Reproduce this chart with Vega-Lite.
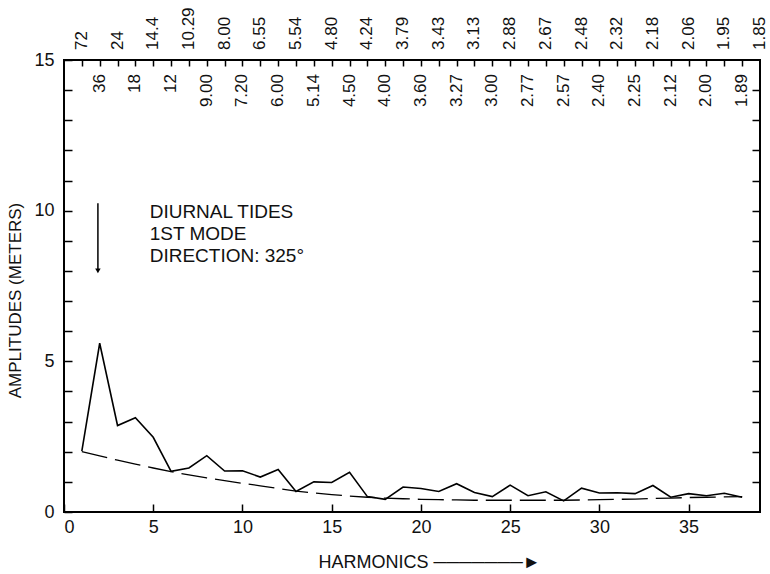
{
  "$schema": "https://vega.github.io/schema/vega-lite/v6.json",
  "width": 696,
  "height": 452,
  "autosize": {"type": "none"},
  "padding": {"left": 64, "top": 60, "right": 10, "bottom": 62},
  "background": "white",
  "config": {
    "font": "Liberation Sans",
    "view": {"stroke": "black", "strokeWidth": 2},
    "axis": {
      "domain": false,
      "grid": false,
      "tickColor": "black",
      "tickWidth": 1.5,
      "labelColor": "#111",
      "titleColor": "#111",
      "titleFontWeight": "normal",
      "labelFont": "Liberation Sans",
      "titleFont": "Liberation Sans"
    }
  },
  "datasets": {
    "amplitude": [
      {"h": 1, "amp": 2.02}, {"h": 2, "amp": 5.6}, {"h": 3, "amp": 2.87}, {"h": 4, "amp": 3.13},
      {"h": 5, "amp": 2.48}, {"h": 6, "amp": 1.35}, {"h": 7, "amp": 1.46}, {"h": 8, "amp": 1.87},
      {"h": 9, "amp": 1.36}, {"h": 10, "amp": 1.37}, {"h": 11, "amp": 1.16}, {"h": 12, "amp": 1.41},
      {"h": 13, "amp": 0.68}, {"h": 14, "amp": 1.0}, {"h": 15, "amp": 0.98}, {"h": 16, "amp": 1.32},
      {"h": 17, "amp": 0.51}, {"h": 18, "amp": 0.42}, {"h": 19, "amp": 0.83}, {"h": 20, "amp": 0.78},
      {"h": 21, "amp": 0.68}, {"h": 22, "amp": 0.94}, {"h": 23, "amp": 0.65}, {"h": 24, "amp": 0.51},
      {"h": 25, "amp": 0.89}, {"h": 26, "amp": 0.54}, {"h": 27, "amp": 0.67}, {"h": 28, "amp": 0.37},
      {"h": 29, "amp": 0.79}, {"h": 30, "amp": 0.63}, {"h": 31, "amp": 0.64}, {"h": 32, "amp": 0.61},
      {"h": 33, "amp": 0.88}, {"h": 34, "amp": 0.49}, {"h": 35, "amp": 0.61}, {"h": 36, "amp": 0.54},
      {"h": 37, "amp": 0.62}, {"h": 38, "amp": 0.49}
    ],
    "trend": [
      {"h": 1, "amp": 2.0}, {"h": 2, "amp": 1.86}, {"h": 3, "amp": 1.72}, {"h": 4, "amp": 1.59},
      {"h": 5, "amp": 1.46}, {"h": 6, "amp": 1.34}, {"h": 7, "amp": 1.23}, {"h": 8, "amp": 1.13},
      {"h": 9, "amp": 1.04}, {"h": 10, "amp": 0.95}, {"h": 11, "amp": 0.87}, {"h": 12, "amp": 0.78},
      {"h": 13, "amp": 0.69}, {"h": 14, "amp": 0.63}, {"h": 15, "amp": 0.58}, {"h": 16, "amp": 0.53},
      {"h": 17, "amp": 0.49}, {"h": 18, "amp": 0.46}, {"h": 19, "amp": 0.44}, {"h": 20, "amp": 0.42},
      {"h": 21, "amp": 0.41}, {"h": 22, "amp": 0.4}, {"h": 23, "amp": 0.39}, {"h": 24, "amp": 0.39},
      {"h": 25, "amp": 0.39}, {"h": 26, "amp": 0.39}, {"h": 27, "amp": 0.39}, {"h": 28, "amp": 0.39},
      {"h": 29, "amp": 0.4}, {"h": 30, "amp": 0.41}, {"h": 31, "amp": 0.42}, {"h": 32, "amp": 0.43},
      {"h": 33, "amp": 0.45}, {"h": 34, "amp": 0.46}, {"h": 35, "amp": 0.48}, {"h": 36, "amp": 0.49},
      {"h": 37, "amp": 0.5}, {"h": 38, "amp": 0.51}
    ],
    "periods": [
      {"h": 1, "period": "72", "row": "upper"}, {"h": 2, "period": "36", "row": "lower"},
      {"h": 3, "period": "24", "row": "upper"}, {"h": 4, "period": "18", "row": "lower"},
      {"h": 5, "period": "14.4", "row": "upper"}, {"h": 6, "period": "12", "row": "lower"},
      {"h": 7, "period": "10.29", "row": "upper"}, {"h": 8, "period": "9.00", "row": "lower"},
      {"h": 9, "period": "8.00", "row": "upper"}, {"h": 10, "period": "7.20", "row": "lower"},
      {"h": 11, "period": "6.55", "row": "upper"}, {"h": 12, "period": "6.00", "row": "lower"},
      {"h": 13, "period": "5.54", "row": "upper"}, {"h": 14, "period": "5.14", "row": "lower"},
      {"h": 15, "period": "4.80", "row": "upper"}, {"h": 16, "period": "4.50", "row": "lower"},
      {"h": 17, "period": "4.24", "row": "upper"}, {"h": 18, "period": "4.00", "row": "lower"},
      {"h": 19, "period": "3.79", "row": "upper"}, {"h": 20, "period": "3.60", "row": "lower"},
      {"h": 21, "period": "3.43", "row": "upper"}, {"h": 22, "period": "3.27", "row": "lower"},
      {"h": 23, "period": "3.13", "row": "upper"}, {"h": 24, "period": "3.00", "row": "lower"},
      {"h": 25, "period": "2.88", "row": "upper"}, {"h": 26, "period": "2.77", "row": "lower"},
      {"h": 27, "period": "2.67", "row": "upper"}, {"h": 28, "period": "2.57", "row": "lower"},
      {"h": 29, "period": "2.48", "row": "upper"}, {"h": 30, "period": "2.40", "row": "lower"},
      {"h": 31, "period": "2.32", "row": "upper"}, {"h": 32, "period": "2.25", "row": "lower"},
      {"h": 33, "period": "2.18", "row": "upper"}, {"h": 34, "period": "2.12", "row": "lower"},
      {"h": 35, "period": "2.06", "row": "upper"}, {"h": 36, "period": "2.00", "row": "lower"},
      {"h": 37, "period": "1.95", "row": "upper"}, {"h": 38, "period": "1.89", "row": "lower"},
      {"h": 39, "period": "1.85", "row": "upper"}
    ],
    "note": [
      {"h": 1.9, "top": 10.25, "bottom": 8.0, "labelH": 4.8, "labelAmp": 9.96}
    ]
  },
  "resolve": {"axis": {"x": "independent", "y": "independent"}},
  "layer": [
    {
      "data": {"name": "amplitude"},
      "mark": {"type": "line", "color": "black", "strokeWidth": 1.6},
      "encoding": {
        "x": {
          "field": "h",
          "type": "quantitative",
          "scale": {"domain": [0, 39], "nice": false, "zero": false},
          "axis": {
            "orient": "bottom",
            "values": [0, 5, 10, 15, 20, 25, 30, 35],
            "tickSize": -8,
            "labelFontSize": 18,
            "labelPadding": 14,
            "title": "HARMONICS ───────►",
            "titleFontSize": 18,
            "titleX": 365,
            "titleY": 50,
            "titleBaseline": "middle"
          }
        },
        "y": {
          "field": "amp",
          "type": "quantitative",
          "scale": {"domain": [0, 15], "nice": false},
          "axis": {
            "orient": "left",
            "values": [0, 1, 2, 3, 4, 5, 6, 7, 8, 9, 10, 11, 12, 13, 14, 15],
            "labelExpr": "datum.value % 5 === 0 ? datum.label : ''",
            "tickSize": -8,
            "labelFontSize": 18,
            "labelPadding": 18,
            "title": "AMPLITUDES (METERS)",
            "titleFontSize": 17,
            "titleX": -49,
            "titleY": 240,
            "titleBaseline": "middle"
          }
        }
      }
    },
    {
      "data": {"name": "trend"},
      "mark": {"type": "line", "color": "black", "strokeWidth": 1.3, "strokeDash": [26, 8]},
      "encoding": {
        "x": {
          "field": "h",
          "type": "quantitative",
          "axis": {
            "orient": "top",
            "values": [1, 2, 3, 4, 5, 6, 7, 8, 9, 10, 11, 12, 13, 14, 15, 16, 17, 18, 19, 20, 21, 22, 23, 24, 25, 26, 27, 28, 29, 30, 31, 32, 33, 34, 35, 36, 37, 38],
            "labels": false,
            "tickSize": -6,
            "title": null
          }
        },
        "y": {
          "field": "amp",
          "type": "quantitative",
          "axis": {
            "orient": "right",
            "values": [1, 2, 3, 4, 5, 6, 7, 8, 9, 10, 11, 12, 13, 14],
            "labels": false,
            "tickSize": -8,
            "title": null
          }
        }
      }
    },
    {
      "data": {"name": "periods"},
      "transform": [{"filter": "datum.row === 'upper'"}],
      "mark": {"type": "text", "angle": 270, "align": "left", "baseline": "middle", "dx": 10, "fontSize": 17, "font": "Liberation Sans Narrow, Liberation Sans", "color": "#111"},
      "encoding": {
        "x": {"field": "h", "type": "quantitative", "axis": null},
        "y": {"datum": 15, "type": "quantitative", "axis": null},
        "text": {"field": "period"}
      }
    },
    {
      "data": {"name": "periods"},
      "transform": [{"filter": "datum.row === 'lower'"}],
      "mark": {"type": "text", "angle": 270, "align": "right", "baseline": "middle", "dx": -14, "fontSize": 17, "font": "Liberation Sans Narrow, Liberation Sans", "color": "#111"},
      "encoding": {
        "x": {"field": "h", "type": "quantitative", "axis": null},
        "y": {"datum": 15, "type": "quantitative", "axis": null},
        "text": {"field": "period"}
      }
    },
    {
      "data": {"name": "note"},
      "mark": {"type": "text", "text": ["DIURNAL TIDES", "1ST MODE", "DIRECTION: 325°"], "align": "left", "baseline": "middle", "lineHeight": 22, "fontSize": 19, "color": "#111"},
      "encoding": {
        "x": {"field": "labelH", "type": "quantitative", "axis": null},
        "y": {"field": "labelAmp", "type": "quantitative", "axis": null}
      }
    },
    {
      "data": {"name": "note"},
      "mark": {"type": "rule", "color": "black", "strokeWidth": 1.5},
      "encoding": {
        "x": {"field": "h", "type": "quantitative", "axis": null},
        "y": {"field": "top", "type": "quantitative", "axis": null},
        "y2": {"field": "bottom"}
      }
    },
    {
      "data": {"name": "note"},
      "mark": {"type": "point", "shape": "triangle-down", "filled": true, "color": "black", "size": 30, "opacity": 1},
      "encoding": {
        "x": {"field": "h", "type": "quantitative", "axis": null},
        "y": {"field": "bottom", "type": "quantitative", "axis": null}
      }
    }
  ]
}
